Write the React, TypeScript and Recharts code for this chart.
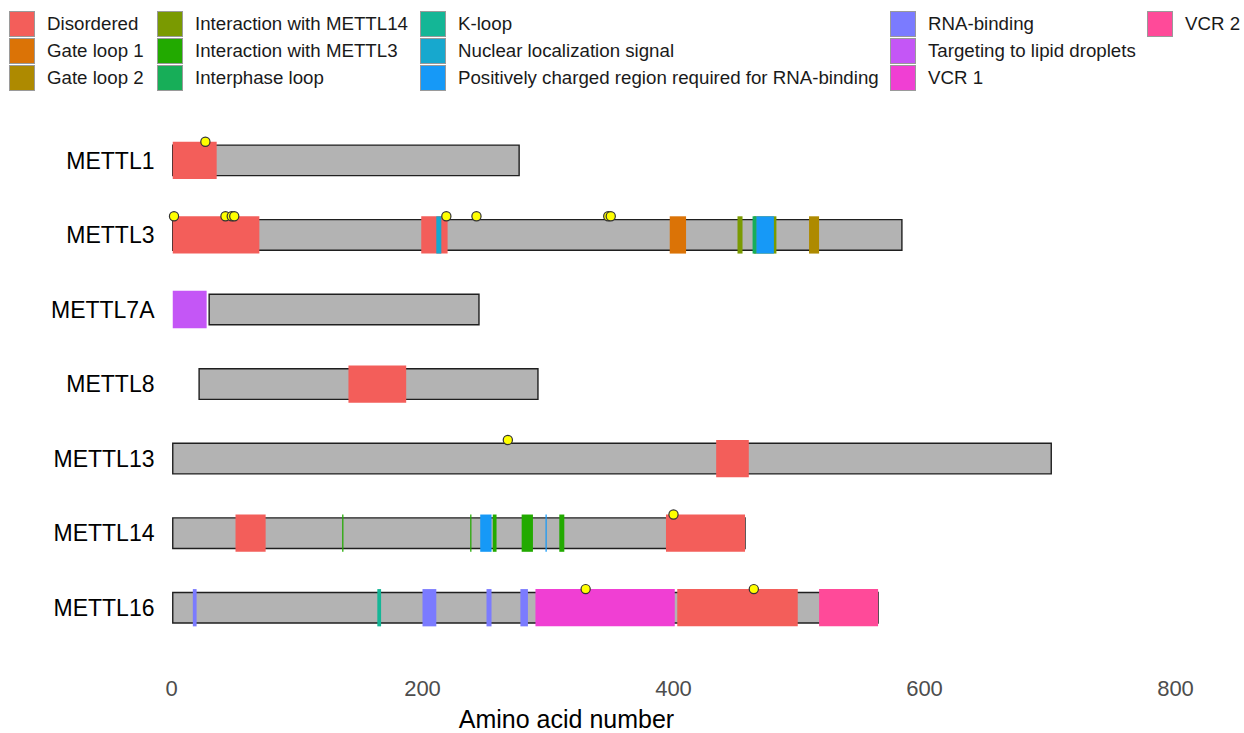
import React from 'react';
import {
  ScatterChart,
  Scatter,
  XAxis,
  YAxis,
  ReferenceArea,
  Label,
} from 'recharts';

// proteins, top to bottom
const PROTEINS = ['METTL1', 'METTL3', 'METTL7A', 'METTL8', 'METTL13', 'METTL14', 'METTL16'];
const CHAIN_START = [1, 1, 30, 22, 1, 1, 1];
const CHAIN_END = [277, 582, 245, 292, 701, 457, 563];

const FEATURE_TYPES = [
  'Disordered',
  'Gate loop 1',
  'Gate loop 2',
  'Interaction with METTL14',
  'Interaction with METTL3',
  'Interphase loop',
  'K-loop',
  'Nuclear localization signal',
  'Positively charged region required for RNA-binding',
  'RNA-binding',
  'Targeting to lipid droplets',
  'VCR 1',
  'VCR 2',
];
const FEATURE_COLORS = [
  '#F35E5A',
  '#DB7306',
  '#AE8A00',
  '#7A9A01',
  '#22AA00',
  '#17AE58',
  '#14B696',
  '#17A8CE',
  '#1699F7',
  '#7B7BFF',
  '#C456F6',
  '#F03FD3',
  '#FF4A99',
];

// [type, begin, end]
const METTL1_FEATURES: [string, number, number][] = [['Disordered', 1, 36]];
const METTL3_FEATURES: [string, number, number][] = [
  ['Disordered', 1, 70],
  ['Disordered', 199, 220],
  ['Nuclear localization signal', 211, 215],
  ['Gate loop 1', 397, 410],
  ['Interaction with METTL14', 451, 455],
  ['Interaction with METTL14', 464, 482],
  ['Interphase loop', 463, 466],
  ['Positively charged region required for RNA-binding', 466, 480],
  ['Gate loop 2', 508, 516],
];
const METTL7A_FEATURES: [string, number, number][] = [['Targeting to lipid droplets', 1, 28]];
const METTL8_FEATURES: [string, number, number][] = [['Disordered', 141, 187]];
const METTL13_FEATURES: [string, number, number][] = [['Disordered', 434, 460]];
const METTL14_FEATURES: [string, number, number][] = [
  ['Disordered', 51, 75],
  ['Interaction with METTL3', 136, 137],
  ['Interaction with METTL3', 238, 239],
  ['Positively charged region required for RNA-binding', 246, 255],
  ['Interaction with METTL3', 256, 259],
  ['Interaction with METTL3', 279, 288],
  ['Positively charged region required for RNA-binding', 298, 299],
  ['Interaction with METTL3', 309, 313],
  ['Disordered', 394, 457],
];
const METTL16_FEATURES: [string, number, number][] = [
  ['RNA-binding', 17, 20],
  ['K-loop', 164, 167],
  ['RNA-binding', 200, 211],
  ['RNA-binding', 251, 255],
  ['RNA-binding', 278, 284],
  ['VCR 1', 290, 401],
  ['Disordered', 403, 499],
  ['VCR 2', 516, 563],
];
const FEATURES = [
  METTL1_FEATURES,
  METTL3_FEATURES,
  METTL7A_FEATURES,
  METTL8_FEATURES,
  METTL13_FEATURES,
  METTL14_FEATURES,
  METTL16_FEATURES,
];

// phosphorylation sites
const PHOSPHO_SITES = [
  [27],
  [2, 43, 48, 50, 219, 243, 348, 350],
  [],
  [],
  [268],
  [400],
  [330, 464],
];

const X_TICKS = [0, 200, 400, 600, 800];

const FONT = '"Liberation Sans", Arial, Helvetica, sans-serif';
const BAR_HALF = 0.205;
const FEAT_HALF = 0.25;

const colorOf = (type: string) => FEATURE_COLORS[FEATURE_TYPES.indexOf(type)];

const LEGEND_COLS = [
  { left: 9, items: [0, 1, 2] },
  { left: 157, items: [3, 4, 5] },
  { left: 420, items: [6, 7, 8] },
  { left: 890, items: [9, 10, 11] },
  { left: 1147, items: [12] },
];

function TopLegend() {
  return (
    <div style={{ position: 'absolute', left: 0, top: 10, width: 1244, height: 81 }}>
      {LEGEND_COLS.map((col, ci) => (
        <div key={ci} style={{ position: 'absolute', left: col.left, top: 0 }}>
          {col.items.map((idx) => (
            <div key={idx} style={{ display: 'flex', alignItems: 'center', height: 27 }}>
              <div
                style={{
                  width: 26,
                  height: 26,
                  background: FEATURE_COLORS[idx],
                  border: '0.5px solid #9a9a9a',
                  boxSizing: 'border-box',
                }}
              />
              <span style={{ marginLeft: 12, fontSize: 18.7, color: '#1a1a1a', whiteSpace: 'nowrap' }}>
                {FEATURE_TYPES[idx]}
              </span>
            </div>
          ))}
        </div>
      ))}
    </div>
  );
}

const YellowDot = (props: any) => (
  <circle cx={props.cx} cy={props.cy} r={4.6} fill="#FFFF00" stroke="#333333" strokeWidth={1.2} />
);

export default function App() {
  const points = PHOSPHO_SITES.flatMap((sites, i) =>
    sites.map((pos) => ({ x: pos, y: i + 1 - FEAT_HALF }))
  );

  return (
    <div style={{ position: 'absolute', left: 0, top: 0, width: 1244, height: 733, fontFamily: FONT, background: '#fff' }}>
      <TopLegend />
      <div style={{ position: 'absolute', left: 0, top: 0 }}>
        <ScatterChart width={1244} height={733} margin={{ top: 123.1, right: 68.5, bottom: 0, left: 0 }}>
          <XAxis
            type="number"
            dataKey="x"
            domain={[0, 800]}
            ticks={X_TICKS}
            axisLine={false}
            tickLine={false}
            tickSize={0}
            tickMargin={35}
            height={88}
            tick={{ fill: '#4D4D4D', fontSize: 22 }}
          >
            <Label
              value="Amino acid number"
              position="insideBottom"
              offset={5}
              dx={-107}
              style={{ fontSize: 25, fill: '#000' }}
            />
          </XAxis>
          <YAxis
            type="number"
            dataKey="y"
            domain={[0.5, 7.5]}
            reversed
            ticks={[1, 2, 3, 4, 5, 6, 7]}
            interval={0}
            tickFormatter={(v: number) => PROTEINS[v - 1]}
            axisLine={false}
            tickLine={false}
            tickSize={0}
            tickMargin={17}
            width={171.5}
            tick={{ fill: '#000', fontSize: 23 }}
          />
          {PROTEINS.map((name, i) => (
            <ReferenceArea
              key={`chain-${name}`}
              x1={CHAIN_START[i]}
              x2={CHAIN_END[i]}
              y1={i + 1 - BAR_HALF}
              y2={i + 1 + BAR_HALF}
              fill="#B3B3B3"
              fillOpacity={1}
              stroke="#1f1f1f"
              strokeWidth={1.4}
            />
          ))}
          {FEATURES.flatMap((list, i) =>
            list.map(([type, b, e], j) => (
              <ReferenceArea
                key={`f-${i}-${j}`}
                x1={b}
                x2={e}
                y1={i + 1 - FEAT_HALF}
                y2={i + 1 + FEAT_HALF}
                fill={colorOf(type)}
                fillOpacity={1}
                stroke="none"
              />
            ))
          )}
          <Scatter data={points} shape={YellowDot} isAnimationActive={false} />
        </ScatterChart>
      </div>
    </div>
  );
}
